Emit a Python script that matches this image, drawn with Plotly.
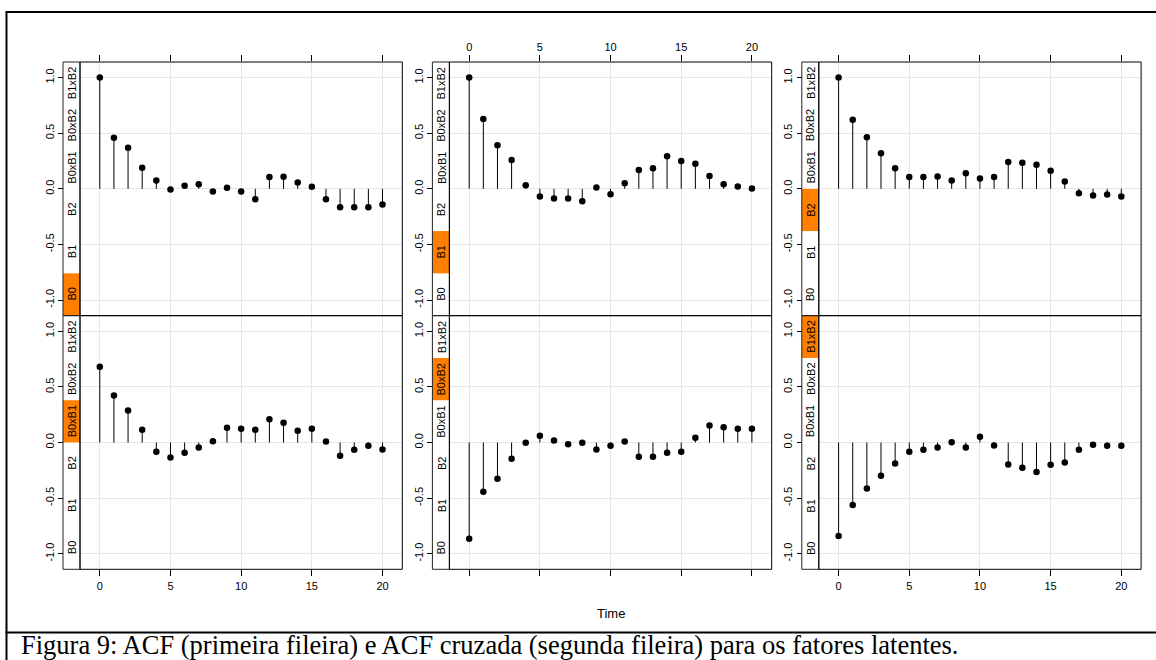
import plotly.graph_objects as go

# ---------------- data ----------------
lags = list(range(21))
levels = ["B0", "B1", "B2", "B0xB1", "B0xB2", "B1xB2"]
panel_levels = ["B0", "B1", "B2", "B0xB1", "B0xB2", "B1xB2"]

acf_B0 = [1.00, 0.46, 0.37, 0.19, 0.075, -0.006, 0.027, 0.042, -0.024, 0.009, -0.024,
          -0.093, 0.105, 0.108, 0.057, 0.018, -0.093, -0.166, -0.166, -0.166, -0.142]
acf_B1 = [1.00, 0.627, 0.392, 0.259, 0.033, -0.069, -0.087, -0.087, -0.111, 0.012, -0.048,
          0.051, 0.169, 0.184, 0.292, 0.250, 0.226, 0.114, 0.042, 0.021, 0.003]
acf_B2 = [1.00, 0.620, 0.464, 0.319, 0.184, 0.105, 0.105, 0.111, 0.075, 0.139, 0.093,
          0.105, 0.241, 0.235, 0.217, 0.163, 0.066, -0.039, -0.060, -0.051, -0.069]
ccf_B0xB1 = [0.680, 0.422, 0.287, 0.114, -0.084, -0.135, -0.093, -0.045, 0.012, 0.132, 0.123,
             0.114, 0.210, 0.177, 0.105, 0.123, 0.009, -0.120, -0.066, -0.030, -0.063]
ccf_B0xB2 = [-0.865, -0.443, -0.326, -0.147, -0.003, 0.060, 0.018, -0.015, -0.003, -0.063, -0.030,
             0.009, -0.129, -0.129, -0.093, -0.084, 0.042, 0.153, 0.138, 0.123, 0.123]
ccf_B1xB2 = [-0.841, -0.563, -0.413, -0.299, -0.189, -0.084, -0.066, -0.045, 0.003, -0.045, 0.051,
             -0.027, -0.198, -0.228, -0.266, -0.201, -0.180, -0.066, -0.021, -0.030, -0.030]
series = [acf_B0, acf_B1, acf_B2, ccf_B0xB1, ccf_B0xB2, ccf_B1xB2]

x_ticks = [0, 5, 10, 15, 20]
y_ticks = [-1.0, -0.5, 0.0, 0.5, 1.0]
y_ticktext = ["-1.0", "-0.5", "0.0", "0.5", "1.0"]
caption = "Figura 9: ACF (primeira fileira) e ACF cruzada (segunda fileira) para os fatores latentes."
xlab = "Time"

# ---------------- layout geometry (pixels) ----------------
W, H = 1156, 660
def px(x):
    return x / W
def py(y):
    return 1 - y / H

col_strip_left = [63, 432.4, 801.8]
strip_w = 17
panel_w = 322.3
row_top = [62, 315.7]
row_h = 253.6
ORANGE = "#FF7F00"
GRID = "#e6e6e6"
SANS = "Liberation Sans, Arial, sans-serif"

fig = go.Figure()
shapes = []
annotations = []

for k, vals in enumerate(series):
    r, c = divmod(k, 3)
    sfx = "" if k == 0 else str(k + 1)
    xa, ya = "x" + sfx, "y" + sfx
    sl = col_strip_left[c]
    x0p, x1p = sl + strip_w, sl + strip_w + panel_w
    y0p, y1p = row_top[r], row_top[r] + row_h

    # stems
    sx, sy = [], []
    for lag, v in zip(lags, vals):
        sx += [lag, lag, None]
        sy += [0, v, None]
    fig.add_trace(go.Scatter(x=sx, y=sy, mode="lines", line=dict(color="black", width=1),
                             xaxis=xa, yaxis=ya, showlegend=False, hoverinfo="skip"))
    fig.add_trace(go.Scatter(x=lags, y=vals, mode="markers",
                             marker=dict(color="black", size=6.5, symbol="circle"),
                             xaxis=xa, yaxis=ya, showlegend=False))

    # axes
    if r == 0:
        xside = "top"
        show_lbl = (c == 1)
    else:
        xside = "bottom"
        show_lbl = (c != 1)
    fig.layout["xaxis" + sfx] = dict(
        domain=[px(x0p), px(x1p)], anchor=ya, range=[-1.4, 21.4], side=xside,
        tickvals=x_ticks, ticks="outside", ticklen=6, tickcolor="black", tickwidth=1,
        showticklabels=show_lbl, tickfont=dict(family=SANS, size=11, color="black"),
        showgrid=True, gridcolor=GRID, gridwidth=1, zeroline=False, showline=False,
        fixedrange=True)
    fig.layout["yaxis" + sfx] = dict(
        domain=[py(y1p), py(y0p)], anchor="free", position=px(sl), range=[-1.14, 1.14],
        tickvals=y_ticks, ticktext=y_ticktext, ticks="outside", ticklen=5, tickcolor="black",
        tickwidth=1, tickangle=-90, tickfont=dict(family=SANS, size=11, color="black"),
        showgrid=True, gridcolor=GRID, gridwidth=1, zeroline=False, showline=False,
        fixedrange=True)

    # strip cells
    cell_h = row_h / len(levels)
    lev_idx = levels.index(panel_levels[k])
    for i, lev in enumerate(levels):
        cb = y1p - i * cell_h
        ct = cb - cell_h
        if i == lev_idx:
            shapes.append(dict(type="rect", xref="paper", yref="paper",
                               x0=px(sl), x1=px(sl + strip_w), y0=py(cb), y1=py(ct),
                               fillcolor=ORANGE, line=dict(width=0), layer="below"))
        annotations.append(dict(text=lev, xref="paper", yref="paper",
                                x=px(sl + strip_w / 2 + 0.5), y=py((cb + ct) / 2),
                                showarrow=False, textangle=-90, xanchor="center", yanchor="middle",
                                font=dict(family=SANS, size=11, color="black")))
    # strip border
    shapes.append(dict(type="rect", xref="paper", yref="paper",
                       x0=px(sl), x1=px(sl + strip_w), y0=py(y1p), y1=py(y0p),
                       line=dict(color="#222222", width=1), layer="above"))
    # panel border
    shapes.append(dict(type="rect", xref="paper", yref="paper",
                       x0=px(x0p), x1=px(x1p), y0=py(y1p), y1=py(y0p),
                       line=dict(color="black", width=1), layer="above"))

# outer frame lines
shapes.append(dict(type="line", xref="paper", yref="paper", x0=px(6.5), x1=px(6.5),
                   y0=py(12), y1=py(660), line=dict(color="black", width=2)))
shapes.append(dict(type="line", xref="paper", yref="paper", x0=px(5.5), x1=1,
                   y0=py(12), y1=py(12), line=dict(color="black", width=2)))
shapes.append(dict(type="line", xref="paper", yref="paper", x0=px(5.5), x1=1,
                   y0=py(632.5), y1=py(632.5), line=dict(color="black", width=2)))

annotations.append(dict(text=xlab, xref="paper", yref="paper", x=px(611), y=py(613),
                        showarrow=False, xanchor="center", yanchor="middle",
                        font=dict(family=SANS, size=13, color="black")))
annotations.append(dict(text=caption, xref="paper", yref="paper", x=px(19), y=py(645),
                        showarrow=False, xanchor="left", yanchor="middle",
                        font=dict(family="Liberation Serif, Times New Roman, serif", size=26.5,
                                  color="black")))

fig.update_layout(width=W, height=H, margin=dict(l=0, r=0, t=0, b=0),
                  paper_bgcolor="white", plot_bgcolor="white",
                  shapes=shapes, annotations=annotations, showlegend=False)

fig.write_html("out.html")
